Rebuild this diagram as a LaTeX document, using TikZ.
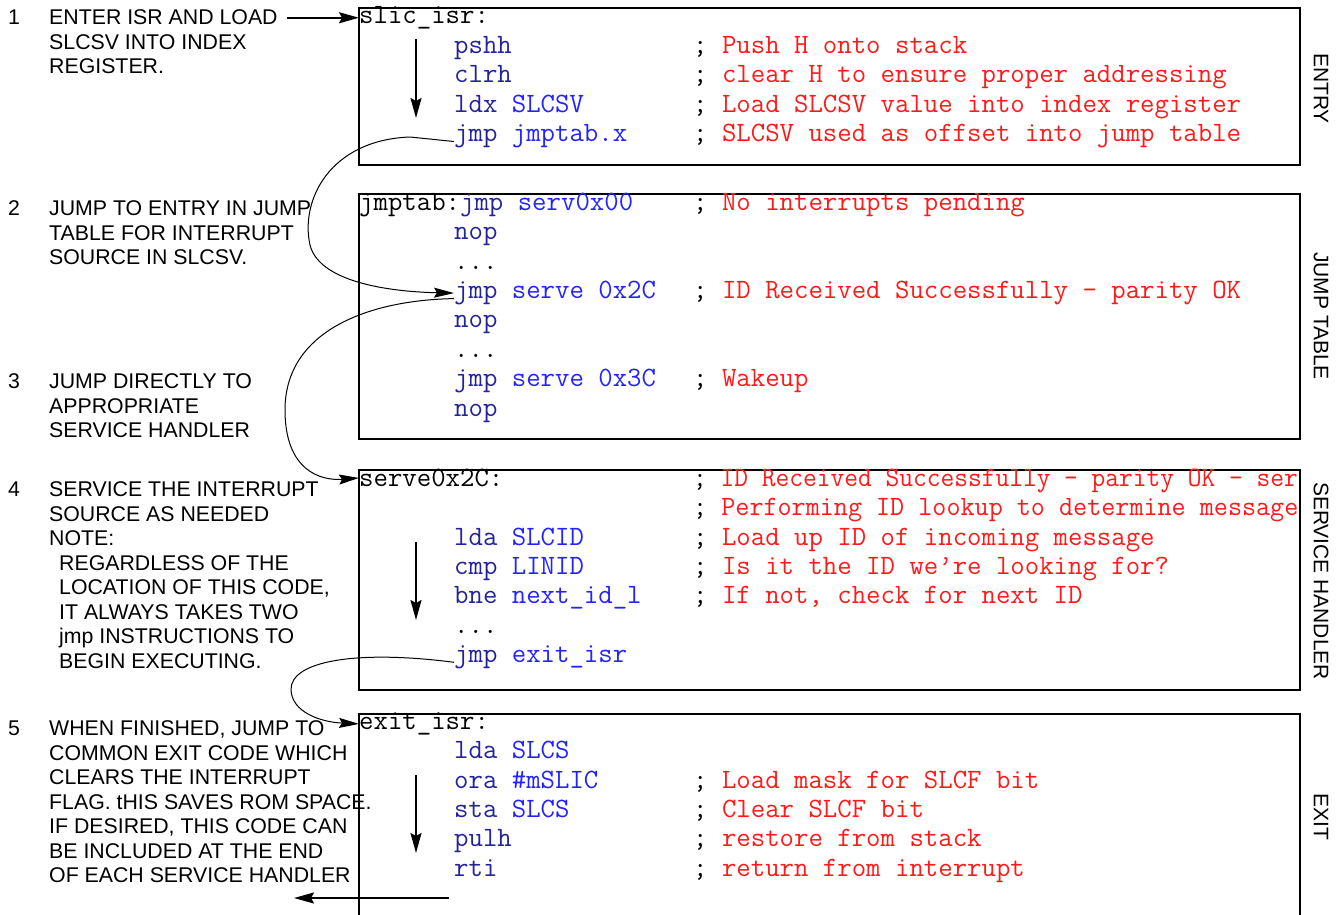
\documentclass[tikz,border=0pt]{standalone}
\usepackage{fontspec}
\usepackage{graphicx}
\setmainfont{Liberation Sans}
\usetikzlibrary{arrows.meta}
\definecolor{opc}{RGB}{35,35,155}
\definecolor{argc}{RGB}{35,35,255}
\definecolor{cmc}{RGB}{255,25,25}
% mnemonic, operand and comment colouring
\newcommand\op[1]{\textcolor{opc}{#1}}
\newcommand\ag[1]{\textcolor{argc}{#1}}
\newcommand\cm[1]{;\ \textcolor{cmc}{#1}}
\begin{document}
\begin{tikzpicture}[x=1pt,y=-1pt,
  code/.style={font={\ttfamily\fontsize{28}{29.4}\selectfont}, anchor=base west, inner sep=0pt},
  note/.style={font={\fontsize{21.3}{24.5}\selectfont}, anchor=north west, inner sep=0pt, align=left},
  num/.style={font={\fontsize{21.3}{24.5}\selectfont}, anchor=base west, inner sep=0pt},
  side/.style={font={\fontsize{21}{24.5}\selectfont}, rotate=-90, inner sep=0pt},
  frame/.style={draw, line width=2pt},
  flow/.style={line width=2pt, -{Stealth[length=20pt,width=11pt,inset=3pt]}},
  jump/.style={line width=1pt, -{Stealth[length=20pt,width=10pt,inset=3pt]}}]
\useasboundingbox (0,0) rectangle (1341,914);

% ---- frames of the four code sections
\draw[frame] (359,8) rectangle (1300,165);
\draw[frame] (359,194) rectangle (1300,439);
\draw[frame] (359,470) rectangle (1300,690);
\draw[frame] (359,916) -- (359,714) -- (1300,714) -- (1300,916);

% ---- section titles on the right
\node[side] (sEntry) at (1321,88.5) {ENTRY};
\node[side] (sJump) at (1321,316) {JUMP TABLE};
\node[side] (sServ) at (1321,581) {SERVICE HANDLER};
\node[side] (sExit) at (1321,817) {EXIT};

% ---- entry code
\node[code] (slic) at (359,23.5) {slic\_isr:};
\node[code] (pshh) at (454,53) {\op{pshh}};
\node[code] (c1) at (693,53) {\cm{Push H onto stack}};
\node[code] (clrh) at (454,82.5) {\op{clrh}};
\node[code] (c2) at (693,82.5) {\cm{clear H to ensure proper addressing}};
\node[code] (ldx) at (454,112) {\op{ldx} \ag{SLCSV}};
\node[code] (c3) at (693,112) {\cm{Load SLCSV value into index register}};
\node[code] (jt) at (454,141.5) {\op{jmp} \ag{jmptab.x}};
\node[code] (c4) at (693,141.5) {\cm{SLCSV used as offset into jump table}};

% ---- jump table
\node[code] (jmptab) at (359,210.5) {jmptab:\op{jmp} \ag{serv0x00}};
\node[code] (c5) at (693,210.5) {\cm{No interrupts pending}};
\node[code] (nop1) at (454,239.9) {\op{nop}};
\node[code] (dots1) at (454,269.2) {...};
\node[code] (j2c) at (454,298.6) {\op{jmp} \ag{serve 0x2C}};
\node[code] (c6) at (693,298.6) {\cm{ID Received Successfully - parity OK}};
\node[code] (nop2) at (454,327.9) {\op{nop}};
\node[code] (dots2) at (454,357.3) {...};
\node[code] (j3c) at (454,386.6) {\op{jmp} \ag{serve 0x3C}};
\node[code] (c7) at (693,386.6) {\cm{Wakeup}};
\node[code] (nop3) at (454,416) {\op{nop}};

% ---- service handler
\node[code] (sv) at (359,486.5) {serve0x2C:};
\node[code] (c8) at (693,486.5) {\scalebox{0.953}[1]{\cm{ID Received Successfully - parity OK - ser}}};
\node[code] (c9) at (693,515.8) {\scalebox{0.976}[1]{\cm{Performing ID lookup to determine message}}};
\node[code] (lda1) at (454,545.1) {\op{lda} \ag{SLCID}};
\node[code] (c10) at (693,545.1) {\cm{Load up ID of incoming message}};
\node[code] (cmp) at (454,574.4) {\op{cmp} \ag{LINID}};
\node[code] (c11) at (693,574.4) {\cm{Is it the ID we’re looking for?}};
\node[code] (bne) at (454,603.7) {\op{bne} \ag{next\_id\_l}};
\node[code] (c12) at (693,603.7) {\cm{If not, check for next ID}};
\node[code] (dots3) at (454,633) {...};
\node[code] (jx) at (454,662.3) {\op{jmp} \ag{exit\_isr}};

% ---- exit code
\node[code] (ex) at (359,729.5) {exit\_isr:};
\node[code] (lda2) at (454,758.8) {\op{lda} \ag{SLCS}};
\node[code] (ora) at (454,788.1) {\op{ora} \ag{\#mSLIC}};
\node[code] (c13) at (693,788.1) {\cm{Load mask for SLCF bit}};
\node[code] (sta) at (454,817.4) {\op{sta} \ag{SLCS}};
\node[code] (c14) at (693,817.4) {\cm{Clear SLCF bit}};
\node[code] (pulh) at (454,846.7) {\op{pulh}};
\node[code] (c15) at (693,846.7) {\cm{restore from stack}};
\node[code] (rti) at (454,876) {\op{rti}};
\node[code] (c16) at (693,876) {\cm{return from interrupt}};

% ---- numbered notes on the left
\node[num] (n1) at (8,24.2) {1};
\node[note] (t1) at (49,9.8) {ENTER ISR AND LOAD\\SLCSV INTO INDEX\\REGISTER.};
\node[num] (n2) at (8,215.2) {2};
\node[note] (t2) at (49,200.8) {JUMP TO ENTRY IN JUMP\\TABLE FOR INTERRUPT\\SOURCE IN SLCSV.};
\node[num] (n3) at (8,388.2) {3};
\node[note] (t3) at (49,373.8) {JUMP DIRECTLY TO\\APPROPRIATE\\SERVICE HANDLER};
\node[num] (n4) at (8,496.2) {4};
\node[note] (t4) at (49,481.8) {SERVICE THE INTERRUPT\\SOURCE AS NEEDED\\NOTE:\\
  \hspace*{10pt}REGARDLESS OF THE\\\hspace*{10pt}LOCATION OF THIS CODE,\\
  \hspace*{10pt}IT ALWAYS TAKES TWO\\\hspace*{10pt}jmp INSTRUCTIONS TO\\
  \hspace*{10pt}BEGIN EXECUTING.};
\node[num] (n5) at (8,735.2) {5};
\node[note] (t5) at (49,720.8) {WHEN FINISHED, JUMP TO\\COMMON EXIT CODE WHICH\\CLEARS THE INTERRUPT\\
  FLAG. tHIS SAVES ROM SPACE.\\IF DESIRED, THIS CODE CAN\\BE INCLUDED AT THE END\\OF EACH SERVICE HANDLER};

% ---- straight flow arrows
\coordinate (inS) at (287,0);
\draw[flow] (inS |- slic.west) -- (slic.west);
\coordinate (d1a) at (416,39);
\coordinate (d1b) at (416,118);
\draw[flow] (d1a) -- (d1b);
\coordinate (d2a) at (416,542);
\coordinate (d2b) at (416,620);
\draw[flow] (d2a) -- (d2b);
\coordinate (d3a) at (416,775);
\coordinate (d3b) at (416,853);
\draw[flow] (d3a) -- (d3b);
\coordinate (outA) at (449,898);
\coordinate (outB) at (294,898);
\draw[flow] (outA) -- (outB);

% ---- jumps between sections
\draw[jump] (jt.base west) -- (410,137) .. controls (330,140) and (300,200) .. (310,245)
  .. controls (320,285) and (400,292) .. (j2c.west);
\draw[jump] (j2c.base west) .. controls (370,300) and (285,330) .. (285,410)
  .. controls (285,470) and (320,481) .. (sv.west);
\draw[jump] (jx.base west) .. controls (360,650) and (290,660) .. (291,690)
  .. controls (292,712) and (320,722) .. (ex.west);
\end{tikzpicture}
\end{document}
